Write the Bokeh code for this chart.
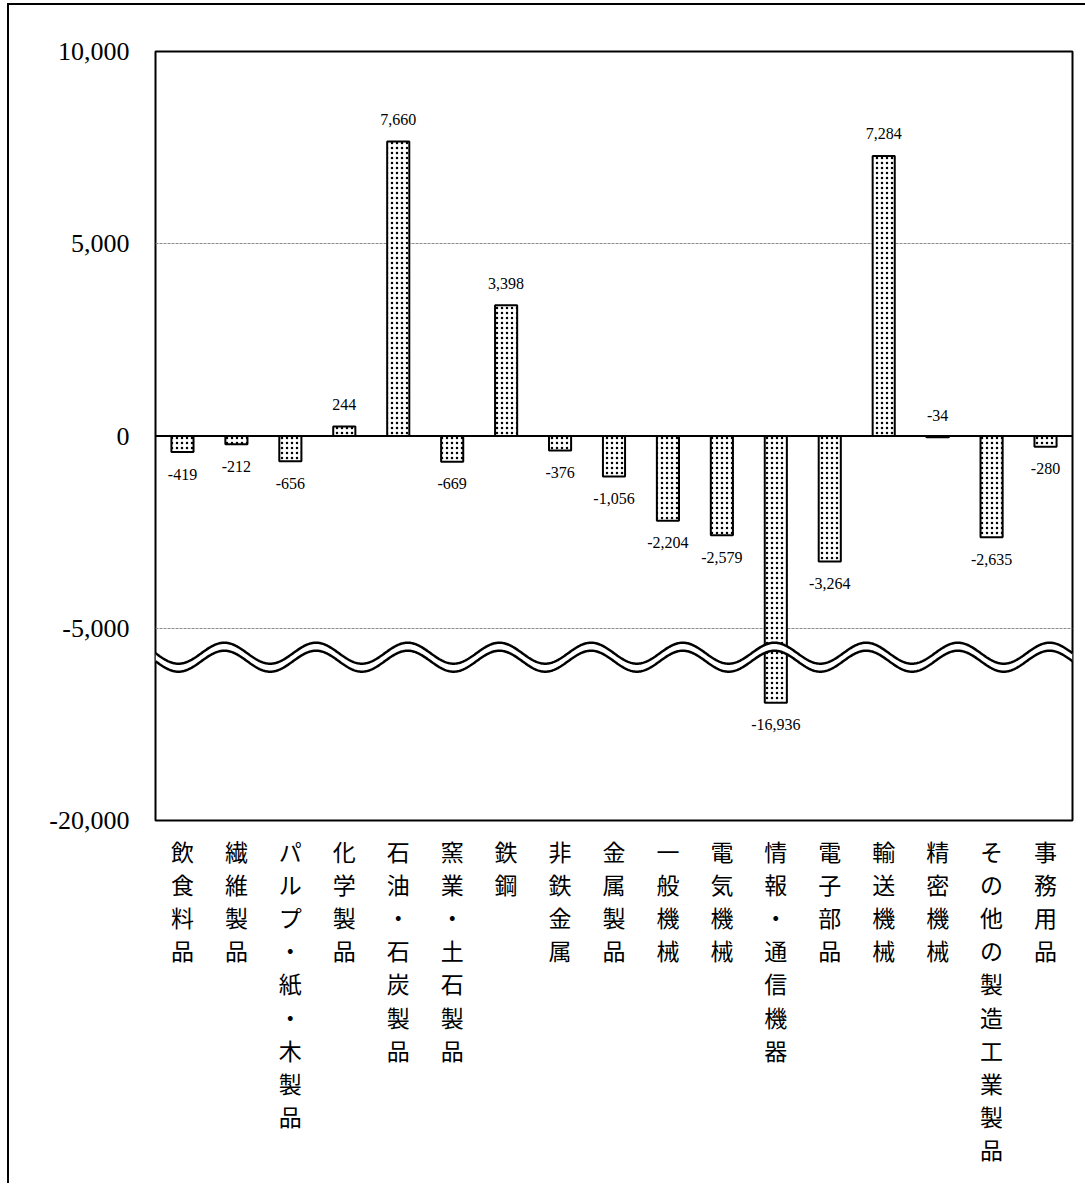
import numpy as np
from bokeh.plotting import figure
from bokeh.models import ColumnDataSource, FixedTicker, LabelSet, Span, Range1d
from bokeh.embed import file_html
from bokeh.resources import INLINE

categories = ["飲食料品", "繊維製品", "パルプ・紙・木製品", "化学製品", "石油・石炭製品",
              "窯業・土石製品", "鉄鋼", "非鉄金属", "金属製品", "一般機械", "電気機械",
              "情報・通信機器", "電子部品", "輸送機械", "精密機械", "その他の製造工業製品", "事務用品"]
values = [-419, -212, -656, 244, 7660, -669, 3398, -376, -1056, -2204, -2579,
          -16936, -3264, 7284, -34, -2635, -280]
ytick_values = [10000, 5000, 0, -5000, -20000]
ytick_labels = ["10,000", "5,000", "0", "-5,000", "-20,000"]

BREAK_SHIFT = 10000  # values below the axis break are drawn shifted up


def disp(v):
    return v + BREAK_SHIFT if v < -10000 else v


xs = list(range(len(categories)))
tops = [disp(v) for v in values]
labels = [f"{v:,}" for v in values]
yoff = [22 if (v > 0 or abs(v) < 100) else -22 for v in values]

src = ColumnDataSource(dict(x=xs, top=tops, label=labels, yoff=yoff))

NUMFONT = "Liberation Serif"
JPFONT = "Noto Sans CJK JP"

p = figure(width=1079, height=1180, output_backend="svg", toolbar_location=None,
           x_range=Range1d(-0.5, len(categories) - 0.5),
           y_range=Range1d(disp(-20000), 10000),
           min_border_left=146, min_border_top=46, min_border_right=16, min_border_bottom=365)
p.styles = {"border-top": "2px solid black", "border-left": "2px solid black",
            "margin-left": "7px", "margin-top": "3px"}

p.outline_line_color = "black"
p.outline_line_width = 2
p.outline_line_alpha = 1

# grid
p.xgrid.visible = False
p.ygrid.ticker = FixedTicker(ticks=[5000, -5000])
p.ygrid.grid_line_color = "#8c8c8c"
p.ygrid.grid_line_width = 1
p.ygrid.grid_line_dash = "3 1"

# y axis
p.yaxis.ticker = FixedTicker(ticks=[disp(t) for t in ytick_values])
p.yaxis.major_label_overrides = {disp(t): l for t, l in zip(ytick_values, ytick_labels)}
p.yaxis.axis_line_color = None
p.yaxis.major_tick_line_color = None
p.yaxis.minor_tick_line_color = None
p.yaxis.major_label_text_font = NUMFONT
p.yaxis.major_label_text_font_size = "26px"
p.yaxis.major_label_text_color = "black"
p.yaxis.major_label_standoff = 20

# x axis
p.xaxis.ticker = FixedTicker(ticks=xs)
p.xaxis.major_label_overrides = {i: "\n".join(list(c)) for i, c in zip(xs, categories)}
p.xaxis.axis_line_color = None
p.xaxis.major_tick_line_color = None
p.xaxis.minor_tick_line_color = None
p.xaxis.major_label_text_font = JPFONT
p.xaxis.major_label_text_font_size = "23px"
p.xaxis.major_label_text_color = "black"
p.xaxis.major_label_text_line_height = 0.977
p.xaxis.major_label_standoff = 7

# bars
p.vbar(x="x", top="top", bottom=0, width=0.41, source=src,
       fill_color="white", line_color="black", line_width=2,
       hatch_pattern="dot", hatch_color="black", hatch_scale=5, hatch_weight=3)

# zero line
p.add_layout(Span(location=0, dimension="width", line_color="black", line_width=2))

# axis break wave
wx = np.linspace(-0.5, len(categories) - 0.5, 1200)
phase = np.sin(2 * np.pi * (wx + 0.5) / 1.7)
amp = 273
upper = -5649 - amp * phase
lower = -5857 - amp * phase
p.varea(x=wx, y1=lower, y2=upper, fill_color="white")
p.line(wx, upper, line_color="black", line_width=2.5)
p.line(wx, lower, line_color="black", line_width=2.5)

# value labels
p.add_layout(LabelSet(x="x", y="top", text="label", source=src, y_offset="yoff",
                      text_align="center", text_baseline="middle",
                      text_font=NUMFONT, text_font_size="16px", text_color="black"))

open("out.html", "w").write(file_html(p, INLINE))
